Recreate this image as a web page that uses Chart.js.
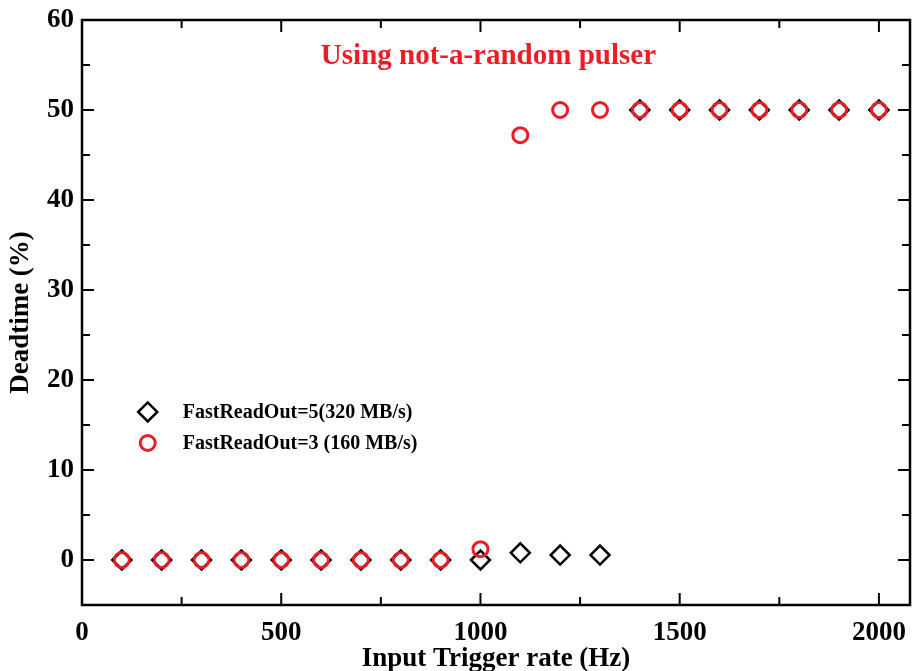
<!DOCTYPE html>
<html>
<head>
<meta charset="utf-8">
<script src="https://cdn.jsdelivr.net/npm/chart.js@4"></script>
<style>
  html, body { margin: 0; padding: 0; background: #fff; overflow: hidden; }
  #wrap { width: 913px; height: 671px; }
  canvas { display: block; }
</style>
</head>
<body>
<div id="wrap"><canvas id="myChart" width="913" height="671"></canvas></div>
<script>
// Dati
const rates = [100, 200, 300, 400, 500, 600, 700, 800, 900, 1000, 1100, 1200, 1300, 1400, 1500, 1600, 1700, 1800, 1900, 2000];
const deadFast5 = [0, 0, 0, 0, 0, 0, 0, 0, 0, 0, 0.8, 0.55, 0.55, 50, 50, 50, 50, 50, 50, 50];
const deadFast3 = [0, 0, 0, 0, 0, 0, 0, 0, 0, 1.2, 47.2, 50, 50, 50, 50, 50, 50, 50, 50, 50];
const xTicks = [0, 500, 1000, 1500, 2000];
const yTicks = [0, 10, 20, 30, 40, 50, 60];
const seriesLabels = ["FastReadOut=5(320 MB/s)", "FastReadOut=3 (160 MB/s)"];
const titleText = "Using not-a-random pulser";

const FONT = "'Liberation Serif', 'DejaVu Serif', serif";
const RED = "#ee1c24";

const toPoints = (ys) => rates.map((x, i) => ({ x, y: ys[i] }));

// Tacche verso l'interno su tutti i lati
const innerTicks = {
    id: 'innerTicks',
    afterDraw(chart) {
        const { ctx, chartArea: a, scales: { x, y } } = chart;
        ctx.save();
        ctx.strokeStyle = '#000';
        ctx.lineWidth = 2;
        ctx.beginPath();
        for (let v = 0; v <= 2000; v += 250) {
            const px = x.getPixelForValue(v);
            const len = v % 500 === 0 ? 12 : 8;
            ctx.moveTo(px, a.bottom); ctx.lineTo(px, a.bottom - len);
            ctx.moveTo(px, a.top); ctx.lineTo(px, a.top + len);
        }
        for (let v = 0; v <= 60; v += 5) {
            const py = y.getPixelForValue(v);
            const len = v % 10 === 0 ? 12 : 8;
            ctx.moveTo(a.left, py); ctx.lineTo(a.left + len, py);
            ctx.moveTo(a.right, py); ctx.lineTo(a.right - len, py);
        }
        ctx.stroke();
        ctx.lineWidth = 2.5;
        ctx.strokeRect(a.left, a.top, a.right - a.left, a.bottom - a.top);
        ctx.restore();
    }
};

// Titolo e legenda dentro l'area del grafico
const insideText = {
    id: 'insideText',
    afterDatasetsDraw(chart) {
        const { ctx, scales: { x, y } } = chart;
        ctx.save();
        ctx.fillStyle = RED;
        ctx.font = `bold 29px ${FONT}`;
        ctx.textAlign = 'center';
        ctx.textBaseline = 'middle';
        ctx.fillText(titleText, x.getPixelForValue(1020), y.getPixelForValue(55.9));

        ctx.font = `bold 20px ${FONT}`;
        ctx.textAlign = 'left';
        chart.data.datasets.forEach((ds, i) => {
            const mx = x.getPixelForValue(165);
            const my = y.getPixelForValue(16.45 - i * 3.45);
            ctx.strokeStyle = ds.borderColor;
            ctx.fillStyle = 'rgba(0,0,0,0)';
            ctx.lineWidth = ds.borderWidth;
            Chart.helpers.drawPoint(ctx, { pointStyle: ds.pointStyle, radius: ds.pointRadius, borderWidth: ds.borderWidth }, mx, my);
            ctx.fillStyle = '#000';
            ctx.fillText(ds.label, mx + 35, my + 1);
        });
        ctx.restore();
    }
};

new Chart("myChart", {
    type: "scatter",
    data: {
        datasets: [{
            label: seriesLabels[0],
            data: toPoints(deadFast5),
            pointStyle: 'rectRot',
            pointRadius: 9.5,
            borderWidth: 2.5,
            borderColor: '#000',
            backgroundColor: 'rgba(0,0,0,0)',
            order: 2,
        },
        {
            label: seriesLabels[1],
            data: toPoints(deadFast3),
            pointStyle: 'circle',
            pointRadius: 7.5,
            borderWidth: 3,
            borderColor: RED,
            backgroundColor: 'rgba(0,0,0,0)',
            order: 1,
        }],
    },
    options: {
        responsive: false,
        animation: false,
        layout: { autoPadding: false, padding: { top: 20, right: 3, left: 0, bottom: 0 } },
        plugins: {
            legend: { display: false },
            tooltip: { enabled: false },
        },
        scales: {
            x: {
                type: 'linear',
                min: 0,
                max: 2078,
                afterBuildTicks: (s) => { s.ticks = xTicks.map(value => ({ value })); },
                afterFit: (s) => { s.height = 66; s.paddingLeft = 0; s.paddingRight = 0; },
                grid: { display: false, drawTicks: false },
                border: { display: false },
                ticks: {
                    color: '#000',
                    font: { family: FONT, size: 27, weight: 'bold' },
                    padding: 12,
                    maxRotation: 0,
                    callback: (v) => String(v),
                },
                title: {
                    display: true,
                    text: 'Input Trigger rate (Hz)',
                    color: '#000',
                    font: { family: FONT, size: 27, weight: 'bold', lineHeight: 0.9 },
                    padding: { top: 0, bottom: 0 },
                },
            },
            y: {
                min: -5,
                max: 60,
                afterBuildTicks: (s) => { s.ticks = yTicks.map(value => ({ value })); },
                afterFit: (s) => { s.width = 82; s.paddingTop = 0; s.paddingBottom = 0; },
                grid: { display: false, drawTicks: false },
                border: { display: false },
                ticks: {
                    color: '#000',
                    font: { family: FONT, size: 27, weight: 'bold' },
                    padding: 8,
                },
                title: {
                    display: true,
                    text: 'Deadtime (%)',
                    color: '#000',
                    font: { family: FONT, size: 27, weight: 'bold', lineHeight: 1 },
                    padding: { top: 8, bottom: 0 },
                },
            },
        },
    },
    plugins: [innerTicks, insideText],
});
</script>
</body>
</html>
